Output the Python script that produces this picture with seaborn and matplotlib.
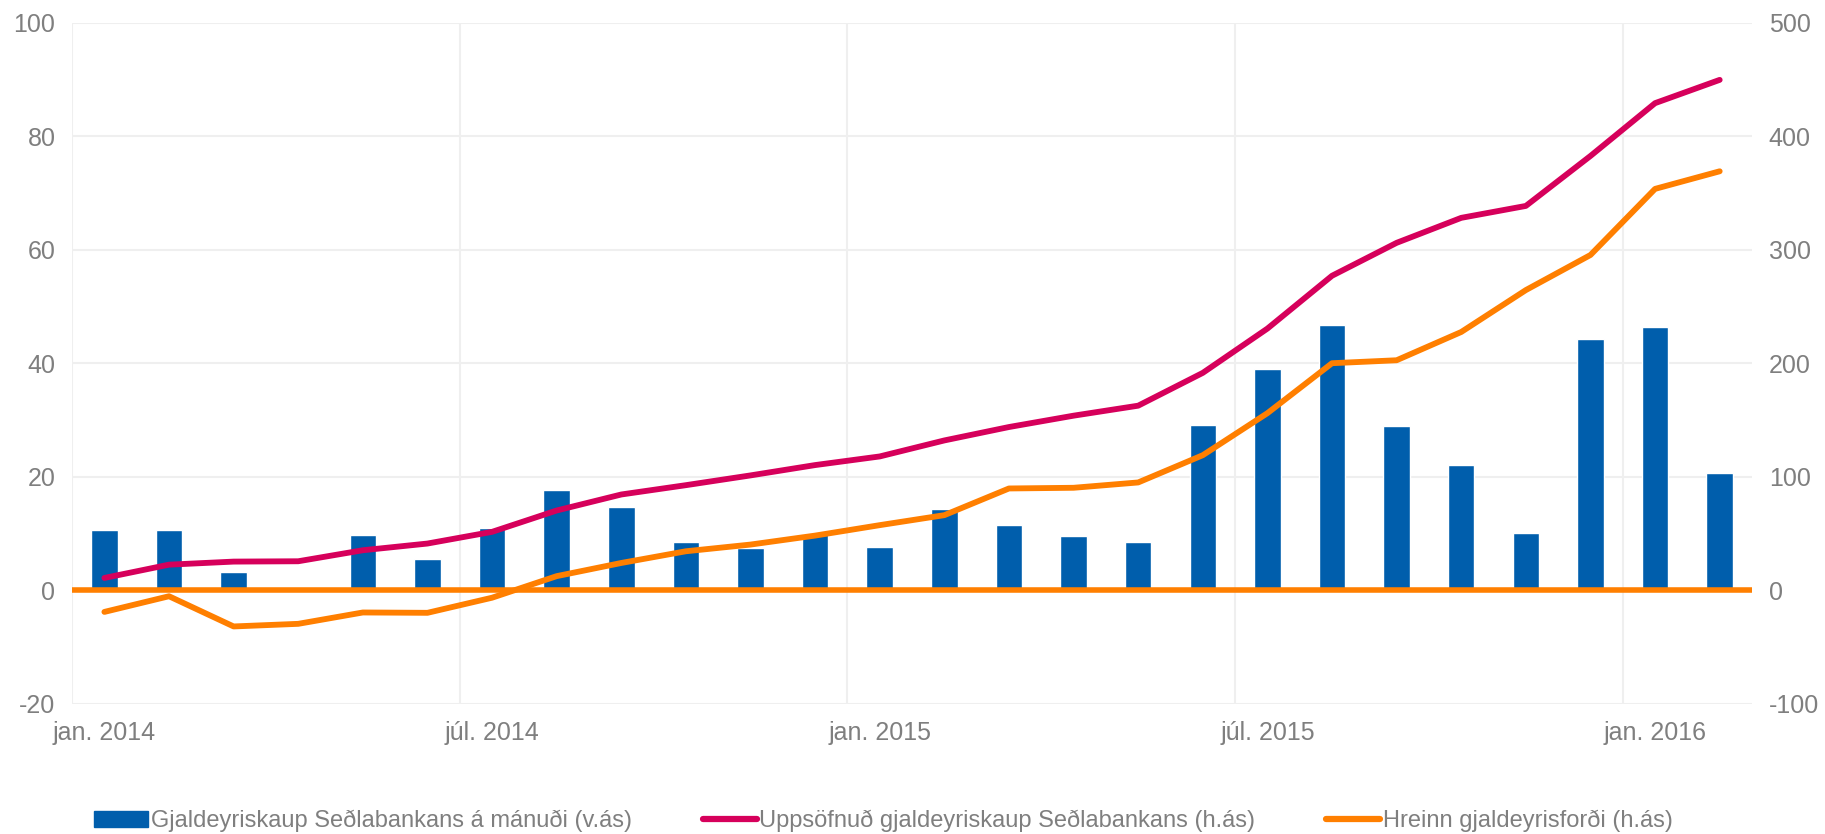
import pandas as pd
import seaborn as sns
import matplotlib.pyplot as plt
from matplotlib.patches import Patch
from matplotlib.lines import Line2D

# Mánuðir jan. 2014 - feb. 2016
manudir = ["jan. 2014", "feb. 2014", "mar. 2014", "apr. 2014", "maí. 2014", "jún. 2014",
           "júl. 2014", "ágú. 2014", "sep. 2014", "okt. 2014", "nóv. 2014", "des. 2014",
           "jan. 2015", "feb. 2015", "mar. 2015", "apr. 2015", "maí. 2015", "jún. 2015",
           "júl. 2015", "ágú. 2015", "sep. 2015", "okt. 2015", "nóv. 2015", "des. 2015",
           "jan. 2016", "feb. 2016"]

# Gjaldeyriskaup á mánuði (vinstri ás)
kaup = [10.6, 10.7, 3.2, 0.2, 9.8, 5.5, 10.9, 17.7, 14.6, 8.6, 7.4, 9.9, 7.7,
        14.3, 11.5, 9.6, 8.6, 29.2, 39.0, 46.8, 28.9, 22.1, 10.1, 44.3, 46.4, 20.7]

# Uppsöfnuð kaup (hægri ás)
uppsafnad = [10.9, 22.6, 25.3, 25.6, 35.3, 41.2, 51.5, 70.3, 84.4, 92.6, 101.2, 110.3, 117.9,
             132.0, 143.8, 153.8, 162.6, 191.5, 230.5, 277.0, 306.0, 328.0, 338.5, 382.5, 429.0, 449.5]

# Hreinn gjaldeyrisforði (hægri ás)
fordi = [-19.0, -5.2, -31.8, -29.5, -19.5, -19.8, -6.5, 12.5, 24.1, 34.4, 40.3, 48.2, 57.4,
         66.2, 89.7, 90.3, 95.0, 119.0, 156.0, 200.0, 202.6, 227.5, 264.4, 295.3, 353.5, 369.0]

tick_pos = [0, 6, 12, 18, 24]
tick_labels = ["jan. 2014", "júl. 2014", "jan. 2015", "júl. 2015", "jan. 2016"]

lbl_bar = "Gjaldeyriskaup Seðlabankans á mánuði (v.ás)"
lbl_cum = "Uppsöfnuð gjaldeyriskaup Seðlabankans (h.ás)"
lbl_net = "Hreinn gjaldeyrisforði (h.ás)"

BLUE = "#005EAC"
MAGENTA = "#D6005B"
ORANGE = "#FF7F00"
GREY = "#7F7F7F"
GRID = "#EFEFEF"

df = pd.DataFrame({"manudur": manudir, "kaup": kaup, "uppsafnad": uppsafnad, "fordi": fordi})
df["x"] = range(len(df))

sns.set_theme(style="white")
plt.rcParams["font.family"] = ["Liberation Sans", "DejaVu Sans"]
plt.rcParams["axes.unicode_minus"] = False

fig = plt.figure(figsize=(18.25, 8.34), dpi=100)
ax = fig.add_axes([0.0395, 0.156, 0.9205, 0.817])

sns.barplot(data=df, x="x", y="kaup", color=BLUE, width=0.41, saturation=1,
            ax=ax, zorder=3, order=list(range(len(df))))
ax.set_ylim(-20, 100)
ax.set_yticks(range(-20, 101, 20))
ax.set_xlim(-0.5, len(df) - 0.5)

# rúðunet
for y in range(-20, 101, 20):
    ax.axhline(y, color=GRID, lw=1.5, zorder=0)
for xb in [-0.5, 5.5, 11.5, 17.5, 23.5]:
    ax.axvline(xb, color=GRID, lw=1.5, zorder=0)

ax.set_xticks(tick_pos)
ax.set_xticklabels(tick_labels)
ax.set_xlabel("")
ax.set_ylabel("")
ax.tick_params(axis="both", length=0, labelsize=18, labelcolor=GREY)
ax.tick_params(axis="x", pad=12)
ax.tick_params(axis="y", pad=12)
for s in ax.spines.values():
    s.set_visible(False)

ax2 = ax.twinx()
sns.lineplot(data=df, x="x", y="uppsafnad", color=MAGENTA, lw=4.2, ax=ax2,
             solid_capstyle="round", solid_joinstyle="round", zorder=4)
sns.lineplot(data=df, x="x", y="fordi", color=ORANGE, lw=4.2, ax=ax2,
             solid_capstyle="round", solid_joinstyle="round", zorder=4)
ax2.axhline(0, color=ORANGE, lw=4, zorder=5)
ax2.set_ylim(-100, 500)
ax2.set_yticks(range(-100, 501, 100))
ax2.set_xlim(-0.5, len(df) - 0.5)
ax2.set_xlabel("")
ax2.set_ylabel("")
ax2.tick_params(axis="y", length=0, labelsize=18, labelcolor=GREY, pad=12)
for s in ax2.spines.values():
    s.set_visible(False)

handles = [Patch(color=BLUE), Line2D([], [], color=MAGENTA, lw=4.5, solid_capstyle="round"),
           Line2D([], [], color=ORANGE, lw=4.5, solid_capstyle="round")]
leg = fig.legend(handles, [lbl_bar, lbl_cum, lbl_net], loc="center", ncol=3,
                 bbox_to_anchor=(0.484, 0.0155), frameon=False, fontsize=17,
                 handlelength=2.3, handletextpad=0.1, columnspacing=3.0)
for t in leg.get_texts():
    t.set_color(GREY)

fig.savefig("out.png", dpi=100)
